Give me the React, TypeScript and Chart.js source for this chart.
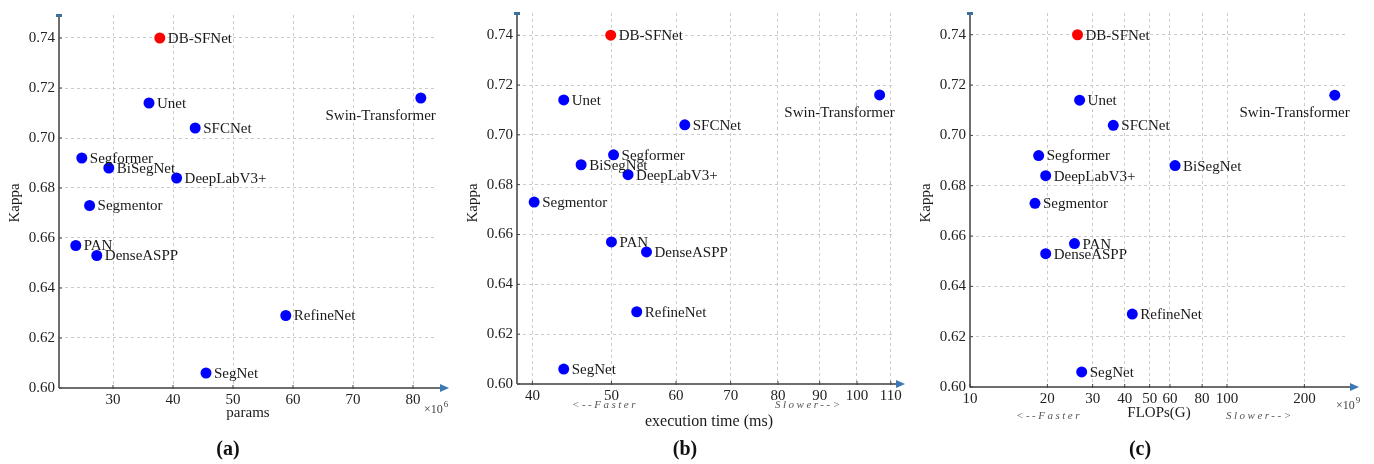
import React, { useEffect, useRef } from 'react';
import { Chart, registerables } from 'chart.js';

Chart.register(...registerables);
Chart.defaults.font.family = "'Liberation Serif', 'Times New Roman', serif";

// ---------------- data ----------------
const models = ['DB-SFNet', 'Unet', 'SFCNet', 'Swin-Transformer', 'Segformer', 'BiSegNet', 'DeepLabV3+', 'Segmentor', 'PAN', 'DenseASPP', 'RefineNet', 'SegNet'];
const kappa = [0.740, 0.714, 0.704, 0.716, 0.692, 0.688, 0.684, 0.673, 0.657, 0.653, 0.629, 0.606];
const paramsM = [37.8, 36.0, 43.7, 81.3, 24.8, 29.3, 40.6, 26.1, 23.8, 27.3, 58.8, 45.5];
const execMs = [49.9, 43.7, 61.5, 106.6, 50.3, 45.9, 52.4, 40.2, 50.0, 55.2, 53.7, 43.7];
const flopsG = [26.2, 26.7, 36.1, 262.6, 18.5, 62.8, 19.7, 17.9, 25.5, 19.7, 42.8, 27.2];

const kappaTicks = [0.60, 0.62, 0.64, 0.66, 0.68, 0.70, 0.72, 0.74];
const paramsTicks = [30, 40, 50, 60, 70, 80];
const execTicks = [40, 50, 60, 70, 80, 90, 100, 110];
const flopsTicks = [10, 20, 30, 40, 50, 60, 80, 100, 200];

const highlight = 'DB-SFNet';

// ---------------- layout / style ----------------
const H = 464;
const SERIF = "'Liberation Serif', 'Times New Roman', serif";

type Note = {
  text: string; x: number; y: number; font: string;
  align?: CanvasTextAlign; color?: string; spacing?: string; rotate?: boolean; sup?: string;
};

type PanelCfg = {
  left: number; width: number;
  xValues: number[]; xTicks: number[]; xType: 'linear' | 'logarithmic';
  xMin: number; xMax: number; yMax: number;
  area: { left: number; right: number; top: number; bottom: number };
  notes: Note[];
};

const italicSmall = `italic 11px ${SERIF}`;

const panels: PanelCfg[] = [
  {
    left: 0, width: 460, xValues: paramsM, xTicks: paramsTicks, xType: 'linear',
    xMin: 21, xMax: 84, yMax: 0.7492,
    area: { left: 59, right: 437, top: 15, bottom: 388 },
    notes: [
      { text: 'params', x: 248, y: 413, font: `15px ${SERIF}`, align: 'center' },
      { text: '×10', sup: '6', x: 424, y: 410, font: `12px ${SERIF}`, align: 'left', color: '#444' },
      { text: '(a)', x: 228, y: 450, font: `bold 20px ${SERIF}`, align: 'center', color: '#111' },
    ],
  },
  {
    left: 460, width: 460, xValues: execMs, xTicks: execTicks, xType: 'logarithmic',
    xMin: 38.3, xMax: 110.7, yMax: 0.7489,
    area: { left: 57, right: 433, top: 10, bottom: 384 },
    notes: [
      { text: '<--Faster', x: 112, y: 405, font: italicSmall, align: 'left', color: '#555', spacing: '2.5px' },
      { text: 'Slower-->', x: 315, y: 405, font: italicSmall, align: 'left', color: '#555', spacing: '2.5px' },
      { text: 'execution time (ms)', x: 249, y: 422, font: `16px ${SERIF}`, align: 'center' },
      { text: '(b)', x: 225, y: 450, font: `bold 20px ${SERIF}`, align: 'center', color: '#111' },
    ],
  },
  {
    left: 914, width: 460, xValues: flopsG, xTicks: flopsTicks, xType: 'logarithmic',
    xMin: 10, xMax: 293, yMax: 0.74865,
    area: { left: 56, right: 433, top: 13, bottom: 387 },
    notes: [
      { text: '<--Faster', x: 102, y: 416, font: italicSmall, align: 'left', color: '#555', spacing: '2.5px' },
      { text: 'FLOPs(G)', x: 245, y: 413, font: `15px ${SERIF}`, align: 'center' },
      { text: 'Slower-->', x: 312, y: 416, font: italicSmall, align: 'left', color: '#555', spacing: '2.5px' },
      { text: '×10', sup: '9', x: 422, y: 406, font: `12px ${SERIF}`, align: 'left', color: '#444' },
      { text: '(c)', x: 226, y: 450, font: `bold 20px ${SERIF}`, align: 'center', color: '#111' },
    ],
  },
];

// ---------------- plugins ----------------
const axesPlugin = {
  id: 'arrowAxes',
  beforeDatasetsDraw(chart: any) {
    const { ctx, chartArea } = chart;
    const { left, right, top, bottom } = chartArea;
    ctx.save();
    ctx.strokeStyle = '#6e6e6e';
    ctx.lineWidth = 2;
    ctx.beginPath();
    ctx.moveTo(left, bottom);
    ctx.lineTo(left, top);
    ctx.moveTo(left, bottom);
    ctx.lineTo(right + 6, bottom);
    ctx.stroke();
    // small tick marks
    ctx.lineWidth = 1;
    ctx.strokeStyle = '#444';
    const xs = chart.scales.x;
    const ys = chart.scales.y;
    ctx.beginPath();
    xs.ticks.forEach((t: any) => {
      const px = xs.getPixelForValue(t.value);
      ctx.moveTo(px, bottom - 3);
      ctx.lineTo(px, bottom + 1);
    });
    ys.ticks.forEach((t: any) => {
      const py = ys.getPixelForValue(t.value);
      ctx.moveTo(left, py);
      ctx.lineTo(left + 3, py);
    });
    ctx.stroke();
    // arrow head on x-axis
    ctx.fillStyle = '#3c78b4';
    ctx.beginPath();
    ctx.moveTo(right + 12, bottom);
    ctx.lineTo(right + 3, bottom - 4);
    ctx.lineTo(right + 3, bottom + 4);
    ctx.closePath();
    ctx.fill();
    // cap on y-axis
    ctx.fillStyle = '#3c6e9e';
    ctx.fillRect(left - 3, top - 1, 6, 3);
    ctx.restore();
  },
};

const pointLabelPlugin = {
  id: 'pointLabels',
  afterDatasetsDraw(chart: any) {
    const { ctx } = chart;
    const meta = chart.getDatasetMeta(0);
    ctx.save();
    ctx.font = `15px ${SERIF}`;
    ctx.fillStyle = '#1a1a1a';
    ctx.textBaseline = 'middle';
    meta.data.forEach((pt: any, i: number) => {
      const name = models[i];
      if (name === 'Swin-Transformer') {
        ctx.textAlign = 'right';
        ctx.fillText(name, pt.x + 15, pt.y + 18);
      } else {
        ctx.textAlign = 'left';
        ctx.fillText(name, pt.x + 8, pt.y + 1);
      }
    });
    ctx.restore();
  },
};

const notesPlugin = {
  id: 'notes',
  afterDraw(chart: any) {
    const { ctx, chartArea } = chart;
    const notes: Note[] = chart.options.plugins.notes.items;
    ctx.save();
    ctx.textBaseline = 'middle';
    notes.forEach((n) => {
      ctx.font = n.font;
      ctx.fillStyle = n.color || '#1a1a1a';
      ctx.textAlign = n.align || 'left';
      (ctx as any).letterSpacing = n.spacing || '0px';
      ctx.fillText(n.text, n.x, n.y);
      if (n.sup) {
        const w = ctx.measureText(n.text).width;
        ctx.font = `9px ${SERIF}`;
        ctx.textAlign = 'left';
        ctx.fillText(n.sup, n.x + w + 1, n.y - 5);
      }
    });
    (ctx as any).letterSpacing = '0px';
    // y-axis title
    ctx.translate(chartArea.left - 44, 203);
    ctx.rotate(-Math.PI / 2);
    ctx.font = `15px ${SERIF}`;
    ctx.fillStyle = '#1a1a1a';
    ctx.textAlign = 'center';
    ctx.fillText('Kappa', 0, 0);
    ctx.restore();
  },
};

// ---------------- components ----------------
function Panel({ cfg }: { cfg: PanelCfg }) {
  const ref = useRef<HTMLCanvasElement>(null);
  useEffect(() => {
    const canvas = ref.current;
    if (!canvas) return;
    const gridCommon = { color: '#cbcbcb', lineWidth: 1, drawTicks: false };
    const chart = new Chart(canvas, {
      type: 'scatter',
      data: {
        datasets: [{
          data: cfg.xValues.map((x, i) => ({ x, y: kappa[i] })),
          pointRadius: 5.5,
          pointHoverRadius: 5.5,
          pointBorderWidth: 0,
          pointBackgroundColor: models.map((m) => (m === highlight ? '#ff0000' : '#0000ff')),
        }],
      },
      options: {
        responsive: false,
        animation: false,
        events: [],
        layout: { padding: { left: 0, top: cfg.area.top, right: cfg.width - cfg.area.right, bottom: 0 } },
        plugins: {
          legend: { display: false },
          tooltip: { enabled: false },
          notes: { items: cfg.notes },
        } as any,
        scales: {
          x: {
            type: cfg.xType,
            min: cfg.xMin,
            max: cfg.xMax,
            afterFit: (s: any) => { s.height = H - cfg.area.bottom; },
            afterBuildTicks: (s: any) => { s.ticks = cfg.xTicks.map((v) => ({ value: v })); },
            ticks: {
              autoSkip: false, maxRotation: 0, minRotation: 0, padding: 3,
              color: '#222', font: { size: 15 },
              callback: (v: any) => String(v),
            },
            grid: gridCommon,
            border: { display: false, dash: [3, 3] },
          } as any,
          y: {
            type: 'linear',
            min: 0.6,
            max: cfg.yMax,
            afterFit: (s: any) => { s.width = cfg.area.left; },
            afterBuildTicks: (s: any) => { s.ticks = kappaTicks.map((v) => ({ value: v })); },
            ticks: {
              padding: 4, color: '#222', font: { size: 15 },
              callback: (v: any) => Number(v).toFixed(2),
            },
            grid: gridCommon,
            border: { display: false, dash: [3, 3] },
          } as any,
        },
      },
      plugins: [axesPlugin, pointLabelPlugin, notesPlugin],
    });
    return () => chart.destroy();
  }, [cfg]);
  return (
    <canvas
      ref={ref}
      width={cfg.width}
      height={H}
      style={{ position: 'absolute', left: cfg.left, top: 0, width: cfg.width, height: H }}
    />
  );
}

export default function App() {
  return (
    <div style={{ position: 'fixed', left: 0, top: 0, width: 1374, height: H, background: '#ffffff', overflow: 'hidden' }}>
      {panels.map((p, i) => <Panel key={i} cfg={p} />)}
    </div>
  );
}
